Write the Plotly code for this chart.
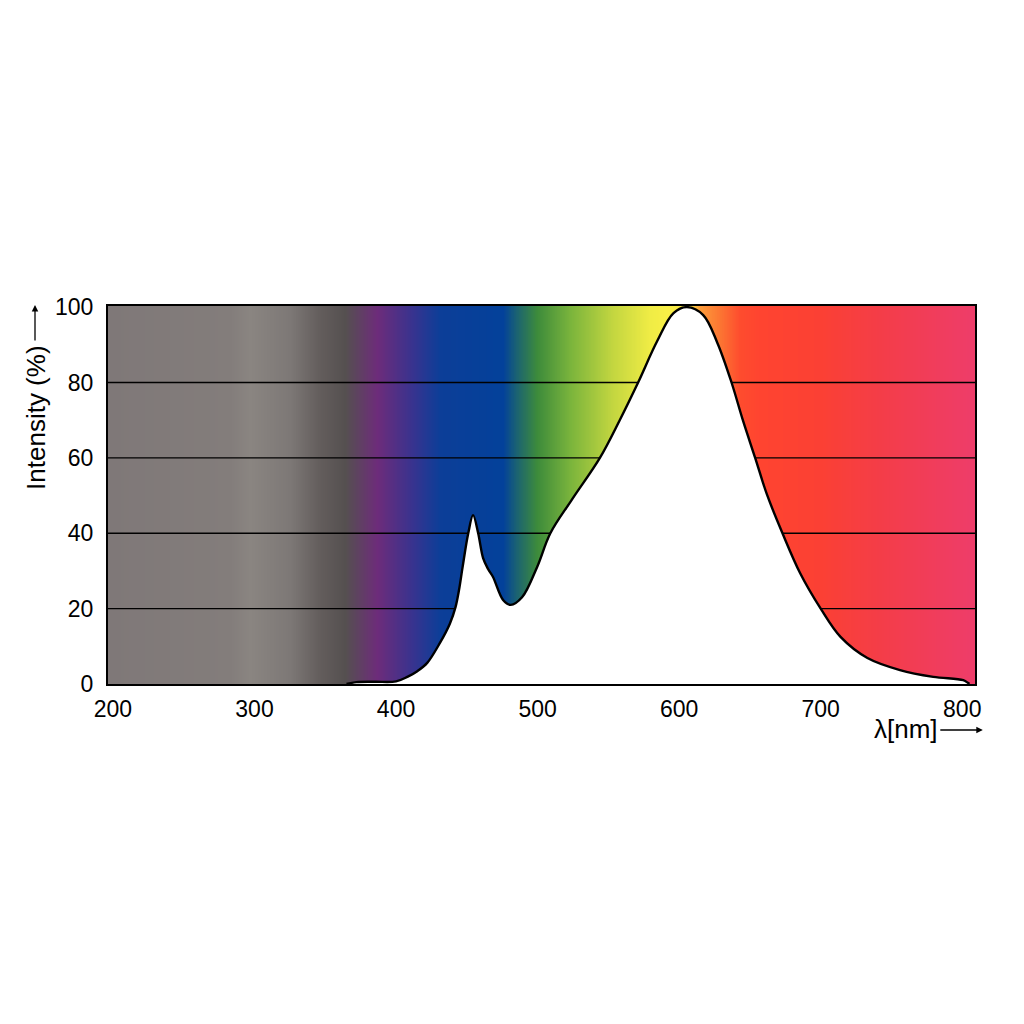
import plotly.graph_objects as go
import numpy as np

# Spectrum curve (wavelength nm, relative intensity %)
wavelength = [365, 372, 385, 400, 408, 415, 422, 431, 438, 442, 444.5, 447, 451, 454.4, 458,
              461.5, 465, 468.5, 475.6, 481, 489, 499.6, 509, 524, 544, 558, 571,
              584.5, 596, 605.5, 617, 627, 637, 645, 653.7, 662, 673, 685.5, 700,
              714, 733, 756, 779.5, 800.7, 804, 805]
intensity = [0, 0.5, 0.6, 0.7, 1.9, 3.4, 5.6, 10.9, 16, 20.4, 25, 31, 40, 44.8, 40,
             33.4, 30.5, 28.4, 22.3, 21, 23, 31, 40, 48.8, 60, 70, 80,
             91, 98.4, 100, 97.9, 90.5, 80, 70, 60, 50.3, 40, 29.4, 20,
             12.5, 6.9, 3.7, 1.9, 1.0, 0.3, 0]

# Background spectrum colour stops (nm, colour)
bg_nm = [196.5, 282.7, 296.8, 325, 346, 364, 386.6, 412, 431, 475.6, 485.5, 499.6,
         523, 553, 579.5, 591.5, 607.8, 614.8, 627, 643, 657, 700, 742, 809]
bg_col = ["#7f7878", "#837d7b", "#8a8581", "#7d7876", "#635d5c", "#555050",
          "#6d2c7a", "#37338f", "#0c3e98", "#03419a", "#1c6470", "#3d8b3b",
          "#7ab43c", "#c3d640", "#f0ec45", "#f8ef46", "#f9e044", "#fc9b3a",
          "#fc7a33", "#fe4c2e", "#ff4430", "#fb4034", "#f43d48", "#ee3d6a"]

x_ticks = [200, 300, 400, 500, 600, 700, 800]
y_ticks = [0, 20, 40, 60, 80, 100]
x_range = [196.5, 809]
y_range = [0, 100.3]

lo, hi = bg_nm[0], bg_nm[-1]
colorscale = [[(v - lo) / (hi - lo), c] for v, c in zip(bg_nm, bg_col)]
xs = np.arange(lo, hi + 0.5, 0.5)

fig = go.Figure()
fig.add_trace(go.Heatmap(x=xs, y=[0, 100.3], z=[xs, xs], colorscale=colorscale,
                         zmin=lo, zmax=hi, showscale=False, zsmooth="best",
                         hoverinfo="skip"))
for g in y_ticks[1:-1]:
    fig.add_trace(go.Scatter(x=x_range, y=[g, g], mode="lines",
                             line=dict(color="black", width=1.3),
                             showlegend=False, hoverinfo="skip"))
fig.add_trace(go.Scatter(x=wavelength, y=intensity, mode="lines", fill="tozeroy",
                         fillcolor="white",
                         line=dict(color="black", width=2.4, shape="spline", smoothing=1.0),
                         showlegend=False))

fam = "Arial, Liberation Sans, sans-serif"
font = dict(family=fam, size=23, color="black")
fig.update_layout(
    width=1024, height=1024,
    margin=dict(l=100, r=57, t=298, b=348),
    paper_bgcolor="white", plot_bgcolor="white",
    font=font, showlegend=False,
    xaxis=dict(range=x_range, tickvals=x_ticks, showgrid=False, zeroline=False,
               showline=True, linecolor="black", linewidth=2, mirror=True,
               ticks="", ticklabelstandoff=3, tickfont=font),
    yaxis=dict(range=y_range, tickvals=y_ticks, showgrid=False, zeroline=False,
               showline=True, linecolor="black", linewidth=2, mirror=True,
               ticks="", ticklabelstandoff=8, tickfont=font),
    annotations=[
        dict(text="Intensity (%)", xref="paper", yref="paper", x=-0.083, y=0.704,
             xanchor="center", yanchor="middle",
             textangle=-90, showarrow=False, font=dict(family=fam, size=26, color="black")),
        dict(text="", xref="paper", yref="paper", x=-0.0842, y=1.0026,
             showarrow=True, ax=0, ay=37, arrowhead=2, arrowsize=1, arrowwidth=1.3,
             arrowcolor="black"),
        dict(text="λ[nm]", xref="paper", yref="paper", x=0.92, y=-0.119,
             xanchor="center", yanchor="middle",
             showarrow=False, font=dict(family=fam, size=26, color="black")),
        dict(text="", xref="paper", yref="paper", x=1.009, y=-0.1217,
             showarrow=True, ax=-44, ay=0, arrowhead=2, arrowsize=1, arrowwidth=1.3,
             arrowcolor="black"),
    ],
)
fig.write_html("out.html")
